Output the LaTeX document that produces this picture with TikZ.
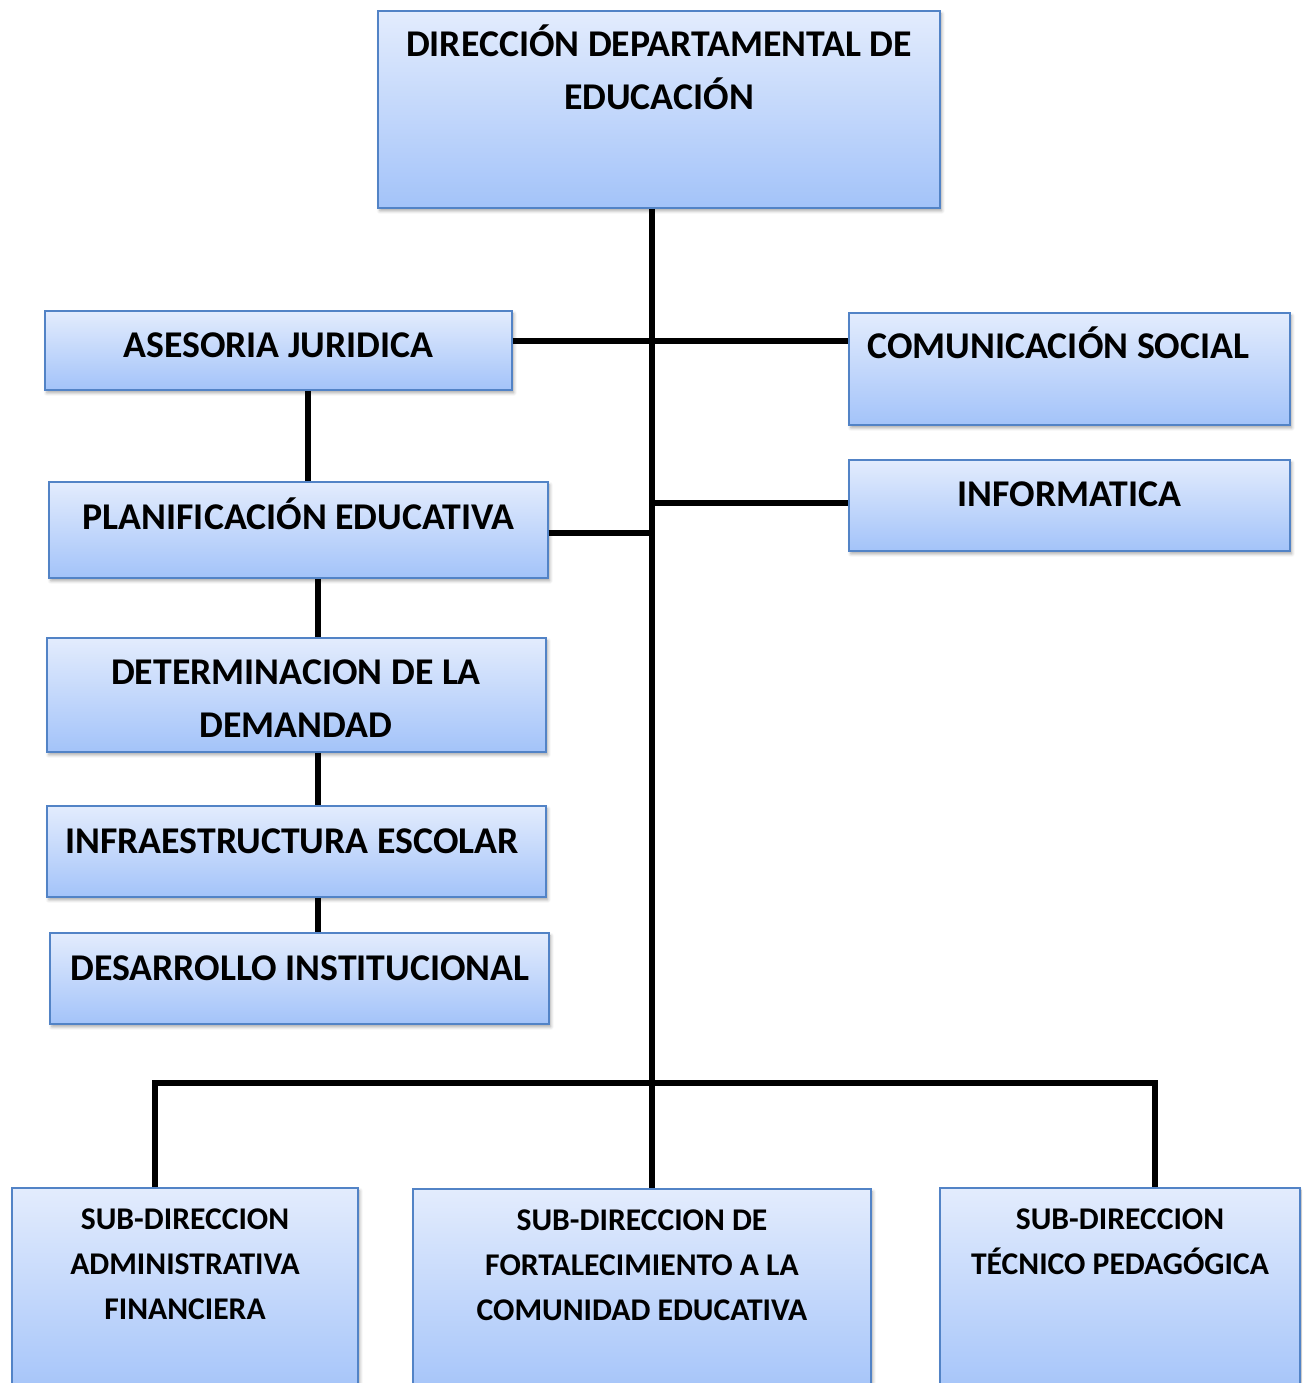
\documentclass[tikz,border=0pt]{standalone}
\usepackage{fontspec}
\setmainfont{Carlito}
\usetikzlibrary{shadows.blur}
\definecolor{boxTop}{HTML}{E3ECFD}
\definecolor{boxBottom}{HTML}{A3C3F9}
\definecolor{boxLine}{HTML}{5283C6}

\begin{document}
\begin{tikzpicture}[x=0.02cm, y=-0.02cm]
  \tikzstyle{box}=[rectangle, draw=boxLine, line width=0.9pt, top color=boxTop, bottom color=boxBottom,
    blur shadow={shadow xshift=1pt, shadow yshift=-1.6pt, shadow blur radius=1.8pt, shadow opacity=35}]
  \tikzstyle{big}=[anchor=base, align=center, inner sep=0pt, font=\bfseries\fontsize{21.5}{30}\selectfont]
  \tikzstyle{small}=[anchor=base, align=center, inner sep=0pt, font=\bfseries\fontsize{18}{25.6}\selectfont]
  \tikzstyle{conn}=[draw=black, line width=2.9pt]

  \clip (0,0) rectangle (1302,1383);

  % boxes
  \node[box, minimum width=11.24cm, minimum height=3.94cm] at (659,109.5) (dir) {};
  \node[box, minimum width=9.34cm, minimum height=1.58cm] at (278.5,350.5) (ases) {};
  \node[box, minimum width=8.82cm, minimum height=2.24cm] at (1069.5,369) (com) {};
  \node[box, minimum width=8.82cm, minimum height=1.82cm] at (1069.5,505.5) (info) {};
  \node[box, minimum width=9.98cm, minimum height=1.92cm] at (298.5,530) (plan) {};
  \node[box, minimum width=9.98cm, minimum height=2.28cm] at (296.5,695) (dem) {};
  \node[box, minimum width=9.98cm, minimum height=1.82cm] at (296.5,851.5) (infra) {};
  \node[box, minimum width=9.98cm, minimum height=1.82cm] at (299.5,978.5) (desa) {};
  \node[box, minimum width=6.92cm, minimum height=4.24cm] at (185,1294) (subA) {};
  \node[box, minimum width=9.16cm, minimum height=4.22cm] at (642,1294.5) (subF) {};
  \node[box, minimum width=7.20cm, minimum height=4.24cm] at (1120,1294) (subT) {};

  % texts (base = last line)
  \node[big] at (659,109) (dirT) {DIRECCIÓN DEPARTAMENTAL DE\\EDUCACIÓN};
  \node[big] at (278.5,357) (asesT) {ASESORIA JURIDICA};
  \node[big] at (1058.5,358) (comT) {COMUNICACIÓN SOCIAL};
  \node[big] at (1069.5,506) (infoT) {INFORMATICA};
  \node[big] at (298.5,529) (planT) {PLANIFICACIÓN EDUCATIVA};
  \node[big] at (296,737) (demT) {DETERMINACION DE LA\\DEMANDAD};
  \node[big] at (292,853) (infraT) {INFRAESTRUCTURA ESCOLAR};
  \node[big] at (300,980) (desaT) {DESARROLLO INSTITUCIONAL};
  \node[small] at (185,1319) (subAT) {SUB-DIRECCION\\ADMINISTRATIVA\\FINANCIERA};
  \node[small] at (642,1320) (subFT) {SUB-DIRECCION DE\\FORTALECIMIENTO A LA\\COMUNIDAD EDUCATIVA};
  \node[small] at (1120,1274) (subTT) {SUB-DIRECCION\\TÉCNICO PEDAGÓGICA};

  % junctions
  \coordinate (jA) at (652,341);
  \coordinate (jI) at (652,503);
  \coordinate (jP) at (652,533);
  \coordinate (jB) at (652,1083);
  \coordinate (bL) at (155,1083);
  \coordinate (bR) at (1155,1083);
  \coordinate (vA) at (308,436);
  \coordinate (vB) at (318,700);

  % connectors
  \draw[conn] (dir.south -| jA) -- (jA) -- (jI) -- (jP) -- (jB) -- (subF.north -| jB);
  \draw[conn] (ases.east |- jA) -- (com.west |- jA);
  \draw[conn] (jI) -- (info.west |- jI);
  \draw[conn] (plan.east |- jP) -- (jP);
  \draw[conn] (ases.south -| vA) -- (plan.north -| vA);
  \draw[conn] (plan.south -| vB) -- (dem.north -| vB);
  \draw[conn] (dem.south -| vB) -- (infra.north -| vB);
  \draw[conn] (infra.south -| vB) -- (desa.north -| vB);
  \draw[conn] (subA.north -| bL) -- (bL) -- (bR) -- (subT.north -| bR);

\end{tikzpicture}
\end{document}
